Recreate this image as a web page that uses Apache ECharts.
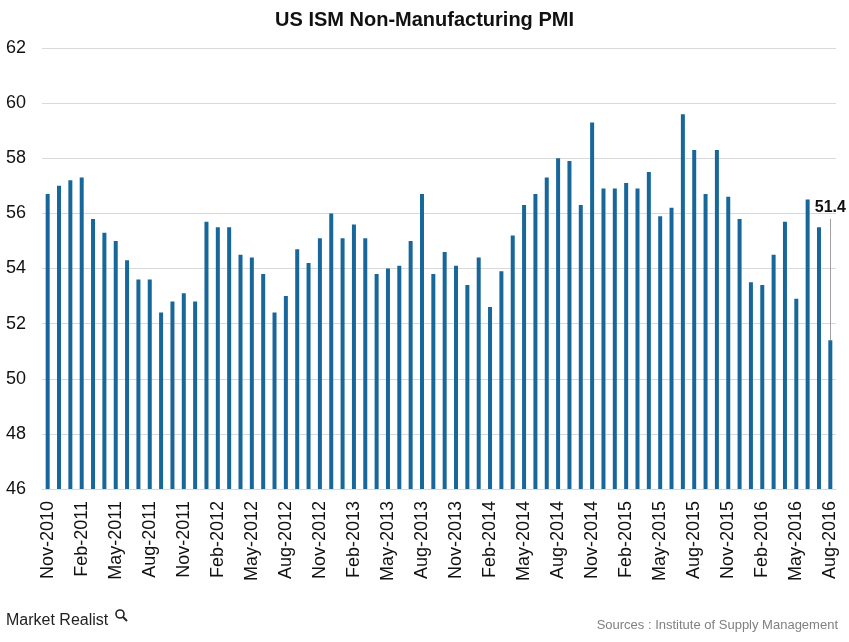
<!DOCTYPE html>
<html>
<head>
<meta charset="utf-8">
<script src="https://cdn.jsdelivr.net/npm/echarts@6/dist/echarts.min.js"></script>
<style>
html,body{margin:0;padding:0;background:#fff;}
#chart{width:849px;height:642px;}
</style>
</head>
<body>
<div id="chart"></div>
<script>
const titleText = 'US ISM Non-Manufacturing PMI';
const sourceText = 'Sources : Institute of Supply Management';
const categories = [
  'Nov-2010','Dec-2010',
  'Jan-2011','Feb-2011','Mar-2011','Apr-2011','May-2011','Jun-2011','Jul-2011','Aug-2011','Sep-2011','Oct-2011','Nov-2011','Dec-2011',
  'Jan-2012','Feb-2012','Mar-2012','Apr-2012','May-2012','Jun-2012','Jul-2012','Aug-2012','Sep-2012','Oct-2012','Nov-2012','Dec-2012',
  'Jan-2013','Feb-2013','Mar-2013','Apr-2013','May-2013','Jun-2013','Jul-2013','Aug-2013','Sep-2013','Oct-2013','Nov-2013','Dec-2013',
  'Jan-2014','Feb-2014','Mar-2014','Apr-2014','May-2014','Jun-2014','Jul-2014','Aug-2014','Sep-2014','Oct-2014','Nov-2014','Dec-2014',
  'Jan-2015','Feb-2015','Mar-2015','Apr-2015','May-2015','Jun-2015','Jul-2015','Aug-2015','Sep-2015','Oct-2015','Nov-2015','Dec-2015',
  'Jan-2016','Feb-2016','Mar-2016','Apr-2016','May-2016','Jun-2016','Jul-2016','Aug-2016'
];
const pmiValues = [
  56.7, 57.0,
  57.2, 57.3, 55.8, 55.3, 55.0, 54.3, 53.6, 53.6, 52.4, 52.8, 53.1, 52.8,
  55.7, 55.5, 55.5, 54.5, 54.4, 53.8, 52.4, 53.0, 54.7, 54.2, 55.1, 56.0,
  55.1, 55.6, 55.1, 53.8, 54.0, 54.1, 55.0, 56.7, 53.8, 54.6, 54.1, 53.4,
  54.4, 52.6, 53.9, 55.2, 56.3, 56.7, 57.3, 58.0, 57.9, 56.3, 59.3, 56.9,
  56.9, 57.1, 56.9, 57.5, 55.9, 56.2, 59.6, 58.3, 56.7, 58.3, 56.6, 55.8,
  53.5, 53.4, 54.5, 55.7, 52.9, 56.5, 55.5, 51.4
];
const yTicks = {min: 46, max: 62, interval: 2};
const calloutLevel = 55.8;

const lastIdx = pmiValues.length - 1;
const chart = echarts.init(document.getElementById('chart'), null, {renderer: 'canvas'});
const FONT = '"Liberation Sans", Arial, sans-serif';

chart.setOption({
  backgroundColor: '#ffffff',
  animation: false,
  title: {
    text: titleText,
    left: 'center',
    top: 5,
    textStyle: {fontFamily: FONT, fontSize: 20, fontWeight: 'bold', color: '#111'}
  },
  grid: {left: 42, right: 13, top: 48, bottom: 153, containLabel: false},
  xAxis: {
    type: 'category',
    data: categories,
    axisTick: {show: false},
    axisLine: {lineStyle: {color: '#d9d9d9', width: 1}},
    axisLabel: {
      interval: 2,
      rotate: 90,
      margin: 12,
      fontFamily: FONT,
      fontSize: 18,
      color: '#111'
    },
    splitLine: {show: false}
  },
  yAxis: {
    type: 'value',
    min: yTicks.min,
    max: yTicks.max,
    interval: yTicks.interval,
    axisLine: {show: false},
    axisTick: {show: false},
    axisLabel: {margin: 16, fontFamily: FONT, fontSize: 18, color: '#111'},
    splitLine: {lineStyle: {color: '#d9d9d9', width: 1}}
  },
  series: [{
    type: 'bar',
    data: pmiValues,
    barWidth: 4,
    itemStyle: {color: '#17679A'},
    markLine: {
      silent: true,
      symbol: ['none', 'none'],
      lineStyle: {color: '#a0a0a0', width: 1, type: 'solid'},
      label: {
        show: true,
        position: 'end',
        distance: 3,
        formatter: String(pmiValues[lastIdx]),
        fontFamily: FONT,
        fontSize: 16,
        fontWeight: 'bold',
        color: '#111'
      },
      data: [[
        {coord: [categories[lastIdx], pmiValues[lastIdx]]},
        {coord: [categories[lastIdx], calloutLevel]}
      ]]
    }
  }],
  graphic: [
    {
      type: 'text', left: 6, top: 613,
      style: {text: 'Market Realist', font: '16px ' + FONT, fill: '#222'}
    },
    {
      type: 'circle', shape: {cx: 120, cy: 614, r: 4},
      style: {fill: 'none', stroke: '#222', lineWidth: 1.6}
    },
    {
      type: 'line', shape: {x1: 123, y1: 617, x2: 127, y2: 621},
      style: {stroke: '#222', lineWidth: 2}
    },
    {
      type: 'text', right: 11, top: 619,
      style: {text: sourceText, font: '13px ' + FONT, fill: '#808080'}
    }
  ]
});
</script>
</body>
</html>
